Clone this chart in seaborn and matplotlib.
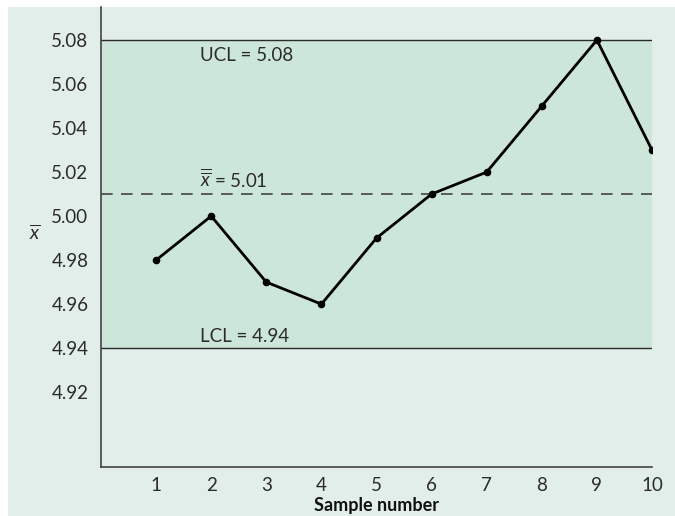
import matplotlib
matplotlib.use("Agg")
import matplotlib.pyplot as plt
import seaborn as sns
import pandas as pd
from matplotlib.patches import Rectangle

# Sample means for ten samples
samples = [1, 2, 3, 4, 5, 6, 7, 8, 9, 10]
xbar = [4.98, 5.00, 4.97, 4.96, 4.99, 5.01, 5.02, 5.05, 5.08, 5.03]

# Control limits
ucl = 5.08
center = 5.01
lcl = 4.94

y_ticks = [4.92, 4.94, 4.96, 4.98, 5.00, 5.02, 5.04, 5.06, 5.08]

sns.set_theme(style="white")
plt.rcParams["font.family"] = ["Lato", "DejaVu Sans"]
plt.rcParams["mathtext.fontset"] = "custom"
plt.rcParams["mathtext.rm"] = "Lato"
plt.rcParams["mathtext.it"] = "Lato:italic"

panel = "#e2eeea"
band = "#cde6da"
ink = "#2b2b2b"

fig = plt.figure(figsize=(6.75, 5.16), dpi=100, facecolor="white")
fig.patches.append(Rectangle((8 / 675, 0), 1 - 8 / 675, 1 - 7 / 516,
                             transform=fig.transFigure, facecolor=panel,
                             edgecolor="none", zorder=-10))
ax = fig.add_axes([101 / 675, 1 - 467 / 516, (652 - 101) / 675, (467 - 7) / 516])
ax.set_facecolor("none")

df = pd.DataFrame({"Sample number": samples, "xbar": xbar})

ax.set_xlim(0, 10)
ax.set_ylim(4.886, 5.095)

# Control band between the limits
ax.axhspan(lcl, ucl, xmin=0, xmax=1, facecolor=band, edgecolor="none", zorder=0)
ax.axhline(ucl, color=ink, lw=1.0, zorder=1)
ax.axhline(lcl, color=ink, lw=1.0, zorder=1)
ax.axhline(center, color="#444444", lw=1.2, ls=(0, (7, 5)), zorder=1)

sns.lineplot(data=df, x="Sample number", y="xbar", ax=ax, color="black",
             lw=2.0, marker="o", markersize=5.5, markeredgewidth=0, zorder=3)

fs = 13.5
ax.text(1.8, ucl - 0.003, "UCL = 5.08", fontsize=fs, color=ink, va="top", ha="left")
ax.text(1.8, lcl + 0.0015, "LCL = 4.94", fontsize=fs, color=ink, va="bottom", ha="left")
ax.text(1.8, center + 0.0015, r"$\overline{\overline{x}}$ = 5.01", fontsize=fs, color=ink,
        va="bottom", ha="left")

ax.set_xticks(samples)
ax.set_xticklabels([str(s) for s in samples])
ax.set_yticks(y_ticks)
ax.set_yticklabels([f"{v:.2f}" for v in y_ticks])
ax.tick_params(axis="both", direction="in", length=7, width=1.0, color="#444444",
               labelsize=fs, labelcolor=ink, pad=7)
ax.tick_params(axis="y", pad=9)

for side in ["top", "right"]:
    ax.spines[side].set_visible(False)
for side in ["left", "bottom"]:
    ax.spines[side].set_color("#444444")
    ax.spines[side].set_linewidth(1.2)

ax.set_xlabel("Sample number", fontsize=13, fontweight="bold", color="#111111", labelpad=2)
ax.set_ylabel(r"$\overline{x}$", fontsize=14, color=ink, rotation=0, va="center")
ax.yaxis.set_label_coords(-0.12, 0.51)

fig.savefig("out.png", dpi=100, facecolor="white")
